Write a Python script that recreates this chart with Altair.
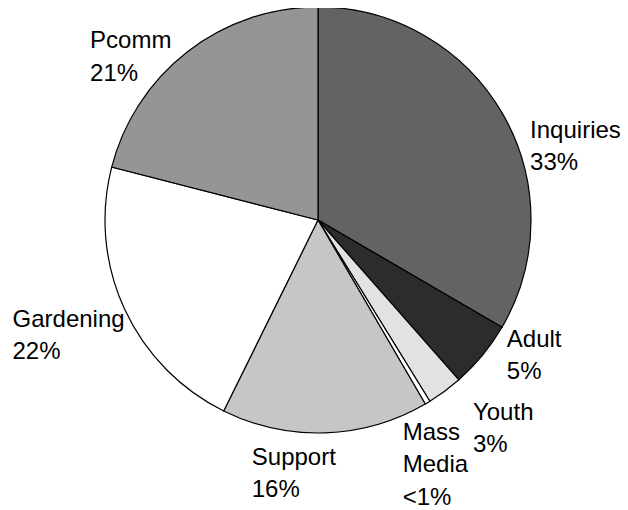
import altair as alt
import pandas as pd

# ---- data ----
categories = ["Inquiries", "Adult", "Youth", "Mass Media", "Support", "Gardening", "Pcomm"]
values = [33.4, 5.1, 2.7, 0.4, 15.7, 21.7, 21.0]
label_names = ["Inquiries", "Adult", "Youth", "Mass\nMedia", "Support", "Gardening", "Pcomm"]
label_pcts = ["33%", "5%", "3%", "<1%", "16%", "22%", "21%"]

# ---- styles ----
fills = ["#636363", "#2c2c2c", "#e2e2e2", "#ffffff", "#c6c6c6", "#ffffff", "#959595"]
label_offsets = [(17, 30), (15, -16), (21, 19), (-31, 27), (-74, 20), (-101, 13), (-90, 6)]
CX, CY, R, RL = 310, 212, 213, 225
FONT = "Liberation Sans"

df = pd.DataFrame({
    "idx": list(range(len(categories))),
    "category": categories,
    "value": values,
    "label": [f"{n}\n{p}" for n, p in zip(label_names, label_pcts)],
})
total = sum(values)
theta_scale = alt.Scale(domain=[0, total])

arcs = alt.Chart().mark_arc(stroke="black", strokeWidth=1.2, radius=R).encode(
    theta=alt.Theta("start:Q", scale=theta_scale),
    theta2="cum:Q",
    color=alt.Color("category:N", scale=alt.Scale(domain=categories, range=fills), legend=None),
    x=alt.value(CX),
    y=alt.value(CY),
)

layers = [arcs]
for cat, (dx, dy) in zip(categories, label_offsets):
    layers.append(
        alt.Chart()
        .mark_text(
            align="left", baseline="alphabetic", dx=dx, dy=dy,
            font=FONT, fontSize=24, lineBreak="\n", lineHeight=32.5,
            radius=RL, color="black",
        )
        .transform_filter(alt.datum.category == cat)
        .encode(
            theta=alt.Theta("mid:Q", scale=theta_scale),
            text="label:N",
            x=alt.value(CX),
            y=alt.value(CY),
        )
    )

chart = (
    alt.layer(*layers, data=df)
    .transform_window(cum="sum(value)", sort=[alt.SortField("idx")], frame=[None, 0])
    .transform_calculate(start="datum.cum - datum.value", mid="datum.cum - datum.value / 2")
    .properties(width=612, height=502, padding=0, autosize=alt.AutoSizeParams(type="none"),
                background="white")
    .configure_view(stroke=None)
)

chart.save("out.html", embed_options={"renderer": "svg", "actions": False})
